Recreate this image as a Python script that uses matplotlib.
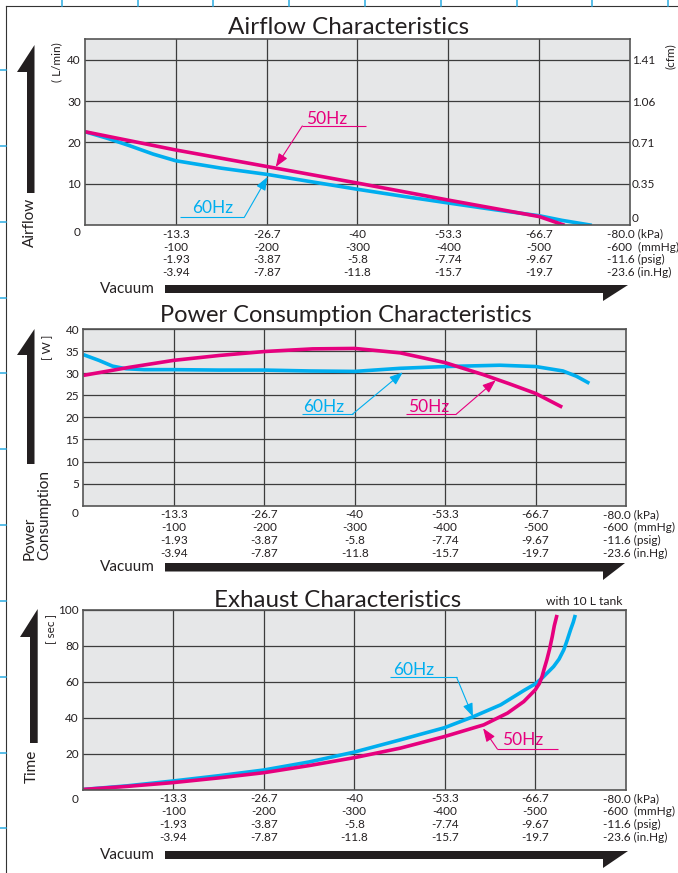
import matplotlib
matplotlib.use('Agg')
import matplotlib.pyplot as plt
from matplotlib.patches import Polygon

plt.rcParams['font.family'] = ['Lato', 'DejaVu Sans']

# DATA

# vacuum grid (kPa magnitude) and the four unit rows under each chart
vac_ticks = [13.33, 26.67, 40, 53.33, 66.67]
vac_kpa = ['-13.3', '-26.7', '-40', '-53.3', '-66.7']
vac_mmhg = ['-100', '-200', '-300', '-400', '-500']
vac_psig = ['-1.93', '-3.87', '-5.8', '-7.74', '-9.67']
vac_inhg = ['-3.94', '-7.87', '-11.8', '-15.7', '-19.7']
vac_last = '-80.0 (kPa)\n-600  (mmHg)\n-11.6 (psig)\n-23.6 (in.Hg)'

# airflow [L/min]
af_ticks = [10, 20, 30, 40]
af_cfm = ['0.35', '0.71', '1.06', '1.41']
af_kpa_50 = [0, 13.3, 26.7, 40, 53.3, 66.7, 70.4]
af_50 = [22.6, 18.2, 14.2, 10.2, 6.1, 2.1, 0]
af_kpa_60 = [0, 3.3, 6.6, 10, 13.3, 20, 26.7, 33.3, 40, 46.7, 53.3, 60, 66.7, 70, 74.4]
af_60 = [22.6, 21.0, 19.2, 17.2, 15.6, 13.8, 12.3, 10.5, 8.7, 7.0, 5.4, 3.8, 2.3, 1.2, 0]

# power consumption [W]
pw_ticks = [5, 10, 15, 20, 25, 30, 35, 40]
pw_kpa_60 = [0, 2.3, 4.3, 6.3, 9, 13.3, 20, 26.7, 33.3, 40, 46.7, 53.3, 61.4, 66.7, 70.7, 72.7, 74.6]
pw_60 = [34.2, 32.9, 31.6, 31.0, 30.8, 30.8, 30.7, 30.7, 30.5, 30.4, 31.1, 31.5, 31.8, 31.5, 30.5, 29.3, 27.7]
pw_kpa_50 = [0, 6.7, 13.3, 20, 26.7, 33.8, 40, 46.7, 53.3, 58.9, 62.8, 66.7, 70.6]
pw_50 = [29.5, 31.3, 32.9, 34.0, 34.9, 35.5, 35.6, 34.6, 32.4, 29.7, 27.6, 25.4, 22.3]

# exhaust time [sec], 10 L tank
ex_ticks = [20, 40, 60, 80, 100]
ex_kpa_60 = [0, 6.5, 13.3, 20, 26.7, 33.3, 40, 46.8, 53.3, 57.6, 61.6, 65.0, 66.7, 67.7,
             68.5, 69.4, 70.2, 70.9, 71.4, 71.9, 72.3, 72.6]
ex_60 = [0.3, 2.3, 5.0, 7.9, 11.1, 15.5, 21.0, 27.8, 34.5, 40.7, 47.2, 55.1, 58.8, 62.0,
         65.0, 68.4, 72.5, 77.7, 83.0, 88.8, 93.0, 97.0]
ex_kpa_50 = [0, 6.5, 13.3, 20, 26.7, 33.3, 40, 46.8, 53.3, 59.1, 62.6, 65.0, 66.7, 67.3,
             67.7, 68.0, 68.4, 68.8, 69.2, 69.5, 69.9]
ex_50 = [0.3, 2.0, 4.1, 6.7, 9.6, 13.5, 17.9, 23.2, 29.6, 36.1, 42.6, 49.0, 55.5, 59.0,
         62.9, 67.0, 72.1, 78.0, 85.0, 91.0, 97.0]

MAG = '#e6007e'
CYAN = '#00aeef'
BG = '#e6e7e8'
GRID = '#3c3c3c'
TXT = '#231f20'

W, H = 678, 873
fig = plt.figure(figsize=(W / 100, H / 100), dpi=100)


def make_axes(left, right, top, bottom, ymax, yticks):
    ax = fig.add_axes([left / W, 1 - bottom / H, (right - left) / W, (bottom - top) / H])
    ax.set_facecolor(BG)
    ax.set_xlim(0, 80)
    ax.set_ylim(0, ymax)
    ax.set_xticks(vac_ticks)
    ax.set_xticklabels(['\n'.join(r) for r in zip(vac_kpa, vac_mmhg, vac_psig, vac_inhg)],
                       fontsize=8.5, color=TXT, linespacing=1.2)
    ax.set_yticks(yticks)
    ax.set_yticklabels([str(t) for t in yticks], fontsize=8.5, color=TXT)
    ax.tick_params(length=0, pad=2.5)
    ax.tick_params(axis='y', pad=3)
    ax.grid(True, color=GRID, lw=0.9)
    ax.set_axisbelow(True)
    for s in ax.spines.values():
        s.set_color('#555555')
        s.set_linewidth(1.2)
    ax.annotate(vac_last, xy=(0.958, 0), xycoords='axes fraction', xytext=(0, -2.5),
                textcoords='offset points', ha='left', va='top', fontsize=8.5,
                color=TXT, linespacing=1.2, annotation_clip=False)
    return ax


def origin_zero(ax, dy):
    ax.annotate('0', xy=(0, 0), xycoords='axes fraction', xytext=(-6, dy),
                textcoords='offset points', ha='center', va='center', fontsize=8.5,
                color=TXT, annotation_clip=False)


def callout(ax, label, color, tx, ty, ux0, ux1, uy, start, tip):
    ax.text(tx, ty, label, color=color, fontsize=12.5, va='baseline', ha='left', clip_on=False)
    ax.plot([ux0, ux1], [uy, uy], color=color, lw=0.8, clip_on=False, solid_capstyle='butt')
    ax.annotate('', xy=tip, xytext=start,
                arrowprops=dict(arrowstyle='-|>,head_length=0.45,head_width=0.17',
                                color=color, lw=0.8, mutation_scale=18, shrinkA=0, shrinkB=0))


# Airflow
ax1 = make_axes(85, 630, 39, 225.3, 45, af_ticks)
ax1.plot(af_kpa_60, af_60, color=CYAN, lw=2.6, solid_capstyle='butt')
ax1.plot(af_kpa_50, af_50, color=MAG, lw=2.6, solid_capstyle='butt')
origin_zero(ax1, -5)
axr = ax1.twinx()
axr.set_ylim(0, 45)
axr.set_yticks(af_ticks)
axr.set_yticklabels(af_cfm, fontsize=8.5, color=TXT)
axr.tick_params(length=0, pad=1.5)
for s in axr.spines.values():
    s.set_visible(False)
axr.annotate('0', xy=(1, 0), xycoords='axes fraction', xytext=(1.5, 1),
             textcoords='offset points', ha='left', va='bottom', fontsize=8.5,
             color=TXT, annotation_clip=False)
callout(ax1, '50Hz', MAG, 32.4, 24.4, 31.9, 41.2, 24.0, (31.9, 24.0), (28.0, 14.1))
callout(ax1, '60Hz', CYAN, 15.7, 2.9, 13.9, 23.4, 1.97, (23.4, 1.97), (26.8, 11.7))

# Power consumption
ax2 = make_axes(83.3, 626, 329, 505.7, 40, pw_ticks)
ax2.plot(pw_kpa_60, pw_60, color=CYAN, lw=2.6, solid_capstyle='butt')
ax2.plot(pw_kpa_50, pw_50, color=MAG, lw=2.6, solid_capstyle='butt')
origin_zero(ax2, -5.5)
callout(ax2, '60Hz', CYAN, 32.4, 21.1, 32.2, 39.7, 20.75, (39.7, 20.75), (47.1, 30.2))
callout(ax2, '50Hz', MAG, 47.8, 21.1, 47.5, 55.0, 20.75, (55.0, 20.75), (60.8, 28.4))

# Exhaust
ax3 = make_axes(83, 625.5, 609.5, 790, 100, ex_ticks)
ax3.plot(ex_kpa_60, ex_60, color=CYAN, lw=2.6, solid_capstyle='butt')
ax3.plot(ex_kpa_50, ex_50, color=MAG, lw=2.6, solid_capstyle='butt')
origin_zero(ax3, -7)
callout(ax3, '60Hz', CYAN, 45.8, 63.7, 45.3, 55.1, 62.4, (55.1, 62.4), (57.5, 40.6))
callout(ax3, '50Hz', MAG, 61.8, 25.2, 61.1, 70.0, 22.7, (61.1, 22.7), (59.0, 34.2))

# overlay in pixel coordinates for frame, arrows and labels
ov = fig.add_axes([0, 0, 1, 1], zorder=10)
ov.set_xlim(0, W)
ov.set_ylim(H, 0)
ov.axis('off')
ov.patch.set_alpha(0)

ov.plot([6, 6], [6, H], color='#333333', lw=0.8)
ov.plot([6, W], [6, 6], color='#333333', lw=0.8)
for x in [62, 138, 213, 289, 365, 441, 517, 592, 668]:
    ov.plot([x, x], [0, 6], color='#29abe2', lw=1.1)
for y in [70, 146, 222, 298, 373, 449, 525, 601, 677, 753, 828]:
    ov.plot([0, 6], [y, y], color='#29abe2', lw=1.1)

ARROW = '#231f20'
# vertical arrows (bar bottom, bar top, tip, bar left, bar right, head left)
for yb, yt, ytip, xl, xr, xh in [(193, 72, 45, 27, 34.5, 17), (464, 355, 329, 27, 34.5, 17),
                                  (743, 637, 609, 30, 37.7, 20)]:
    ov.add_patch(Polygon([(xl, yb), (xr, yb), (xr, ytip), (xh, yt), (xl, yt)],
                         closed=True, fc=ARROW, ec='none'))
# horizontal vacuum arrows
for yt, yb, yh, xtip in [(285, 293, 301, 628), (563, 571.5, 580, 625), (851, 859, 868, 628)]:
    ov.add_patch(Polygon([(165, yt), (xtip, yt), (603, yh), (603, yb), (165, yb)],
                         closed=True, fc=ARROW, ec='none'))
    ov.text(100, (yt + yb) / 2, 'Vacuum', fontsize=11, color=TXT, ha='left', va='center')

ov.text(349, 33.5, 'Airflow Characteristics', fontsize=17.4, color=TXT, ha='center', va='baseline')
ov.text(345.5, 321.7, 'Power Consumption Characteristics', fontsize=17, color=TXT, ha='center', va='baseline')
ov.text(337.5, 606.7, 'Exhaust Characteristics', fontsize=17.4, color=TXT, ha='center', va='baseline')
ov.text(623, 605, 'with 10 L tank', fontsize=8.7, color=TXT, ha='right', va='baseline')

ov.text(30, 222, 'Airflow', fontsize=11, color=TXT, rotation=90, ha='center', va='center')
ov.text(57, 62, '( L/min)', fontsize=8.5, color=TXT, rotation=90, ha='center', va='center')
ov.text(670, 56, '(cfm)', fontsize=8.5, color=TXT, rotation=90, ha='center', va='center')
ov.text(37, 560, 'Power\nConsumption', fontsize=11, color=TXT, rotation=90, ha='center',
        va='bottom', multialignment='left', linespacing=1.0)
ov.text(48, 347, '[ W ]', fontsize=8.5, color=TXT, rotation=90, ha='center', va='center')
ov.text(32, 766, 'Time', fontsize=11, color=TXT, rotation=90, ha='center', va='center')
ov.text(52, 629, '[ sec ]', fontsize=8.5, color=TXT, rotation=90, ha='center', va='center')

fig.savefig('out.png', dpi=100)
